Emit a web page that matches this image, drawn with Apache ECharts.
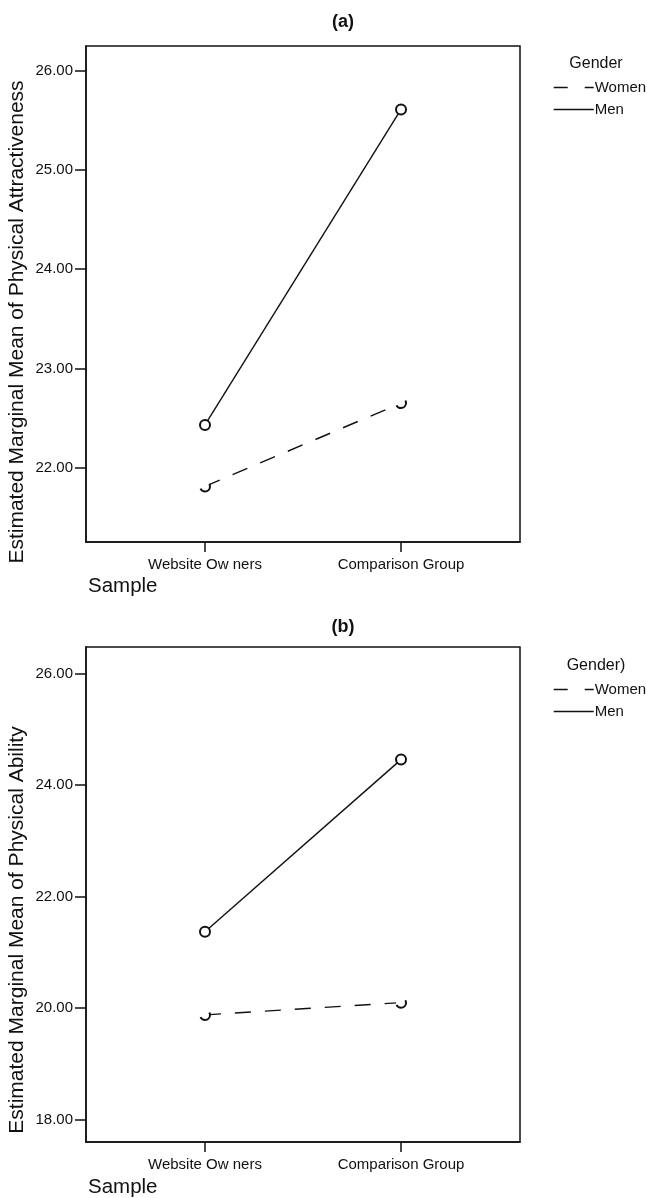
<!DOCTYPE html>
<html><head><meta charset="utf-8">
<script src="https://cdn.jsdelivr.net/npm/echarts@6/dist/echarts.min.js"></script>
<style>html,body{margin:0;padding:0;background:#fff}#c{width:647px;height:1198px}</style>
</head><body><div id="c"></div>
<script>
const categories = ['Website Ow ners', 'Comparison Group'];
const genders = ['Women', 'Men'];
// Panel (a): Physical Attractiveness
const attrWomen = [21.81, 22.65];
const attrMen = [22.43, 25.61];
const attrTicks = [22, 23, 24, 25, 26];
// Panel (b): Physical Ability
const abilWomen = [19.88, 20.10];
const abilMen = [21.37, 24.46];
const abilTicks = [18, 20, 22, 24, 26];

const FONT = 'Liberation Sans, Arial, sans-serif';
const INK = '#111';

function pts(vals){ return vals.map((v,i)=>[i+1, v]); }

function xAxisFor(gi){
  return {
    gridIndex: gi, type: 'value', min: 0.393, max: 2.607,
    axisLine: {show: true, onZero: false, lineStyle: {color: INK, width: 1.5}},
    axisTick: {show: true, length: 10, customValues: [1,2], lineStyle: {color: INK, width: 1.5}},
    axisLabel: {customValues: [1,2], formatter: v => categories[Math.round(v)-1] || '', color: INK, fontFamily: FONT, fontSize: 15, margin: 15},
    splitLine: {show: false}
  };
}
function yAxisFor(gi, min, max, ticks){
  return {
    gridIndex: gi, type: 'value', min: min, max: max,
    axisLine: {show: true, onZero: false, lineStyle: {color: INK, width: 1.5}},
    axisTick: {show: true, length: 11, customValues: ticks, lineStyle: {color: INK, width: 1.5}},
    axisLabel: {customValues: ticks, formatter: v => v.toFixed(2), color: INK, fontFamily: FONT, fontSize: 15, margin: 13},
    splitLine: {show: false}
  };
}
function lineSeries(name, data, gi, dashed){
  return {
    name: name, type: 'line', xAxisIndex: gi, yAxisIndex: gi,
    data: pts(data), symbol: 'emptyCircle', symbolSize: 10,
    lineStyle: {color: INK, width: 1.4, type: dashed ? [16, 14] : 'solid'},
    itemStyle: {color: INK, borderColor: INK, borderWidth: 1.4, borderType: dashed ? [13, 15] : 'solid'},
    emphasis: {disabled: true}, animation: false
  };
}
function legendFor(top){
  return {
    orient: 'vertical', left: 553, top: top, itemWidth: 40, itemHeight: 14, itemGap: 7, padding: 0,
    data: [
      {name: genders[0], lineStyle: {type: [14, 17], width: 1.4}},
      {name: genders[1], lineStyle: {type: 'solid', width: 1.4}}
    ],
    selectedMode: false,
    itemStyle: {opacity: 0},
    textStyle: {color: INK, fontFamily: FONT, fontSize: 15, lineHeight: 14, padding: [0,0,0,-4]}
  };
}

const chart = echarts.init(document.getElementById('c'), null, {renderer: 'canvas'});
chart.setOption({
  backgroundColor: '#fff',
  animation: false,
  grid: [
    {left: 86, top: 46, width: 434, height: 496, show: true, borderColor: INK, borderWidth: 1.5, backgroundColor: 'transparent'},
    {left: 86, top: 647, width: 434, height: 495, show: true, borderColor: INK, borderWidth: 1.5, backgroundColor: 'transparent'}
  ],
  xAxis: [xAxisFor(0), xAxisFor(1)],
  yAxis: [yAxisFor(0, 21.25, 26.25, attrTicks), yAxisFor(1, 17.6, 26.48, abilTicks)],
  legend: [legendFor(80), legendFor(682)],
  series: [
    lineSeries('Women', attrWomen, 0, true),
    lineSeries('Men', attrMen, 0, false),
    lineSeries('Women', abilWomen, 1, true),
    lineSeries('Men', abilMen, 1, false)
  ],
  graphic: [
    {type: 'text', x: 343, y: 22, style: {text: '(a)', font: 'bold 18px ' + FONT, fill: INK, align: 'center', verticalAlign: 'middle'}},
    {type: 'text', x: 343, y: 627, style: {text: '(b)', font: 'bold 18px ' + FONT, fill: INK, align: 'center', verticalAlign: 'middle'}},
    {type: 'text', x: 596, y: 64, style: {text: 'Gender', font: '16px ' + FONT, fill: INK, align: 'center', verticalAlign: 'middle'}},
    {type: 'text', x: 596, y: 666, style: {text: 'Gender)', font: '16px ' + FONT, fill: INK, align: 'center', verticalAlign: 'middle'}},
    {type: 'text', x: 88, y: 586, style: {text: 'Sample', font: '20.5px ' + FONT, fill: INK, verticalAlign: 'middle'}},
    {type: 'text', x: 88, y: 1187, style: {text: 'Sample', font: '20.5px ' + FONT, fill: INK, verticalAlign: 'middle'}},
    {type: 'text', x: 17, y: 322, rotation: Math.PI/2, style: {text: 'Estimated Marginal Mean of Physical Attractiveness', font: '21px ' + FONT, fill: INK, align: 'center', verticalAlign: 'middle'}},
    {type: 'text', x: 17, y: 930, rotation: Math.PI/2, style: {text: 'Estimated Marginal Mean of Physical Ability', font: '21px ' + FONT, fill: INK, align: 'center', verticalAlign: 'middle'}}
  ]
});
</script></body></html>
